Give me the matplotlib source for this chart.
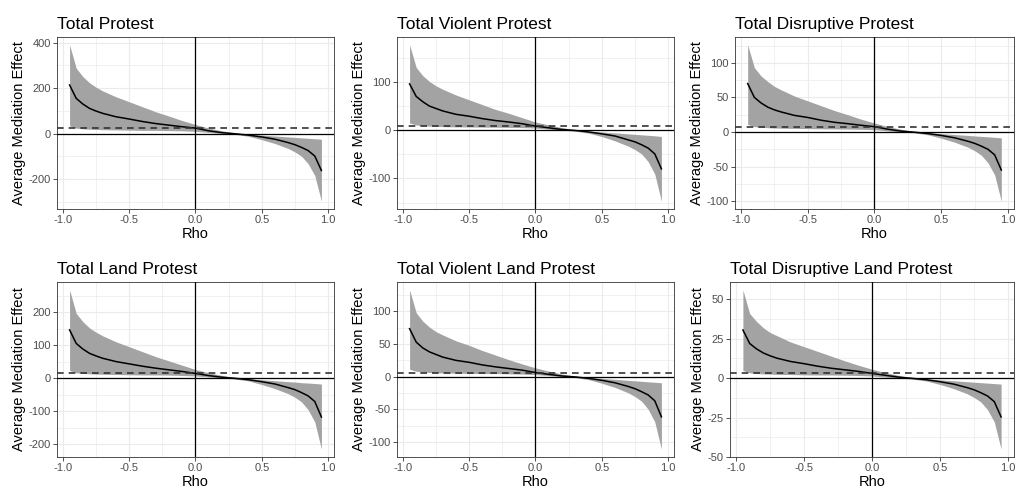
import matplotlib
matplotlib.use("Agg")
import matplotlib.pyplot as plt
from matplotlib.ticker import AutoMinorLocator

plt.rcParams["font.family"] = ["Liberation Sans", "DejaVu Sans"]

rho = [-0.95, -0.9, -0.85, -0.8, -0.75, -0.7, -0.6, -0.5, -0.4, -0.3, -0.2, -0.1, 0.0,
       0.1, 0.2, 0.3, 0.4, 0.5, 0.6, 0.7, 0.75, 0.8, 0.85, 0.9, 0.95]

titles = ["Total Protest", "Total Violent Protest", "Total Disruptive Protest",
          "Total Land Protest", "Total Violent Land Protest", "Total Disruptive Land Protest"]

# average mediation effect at each rho, with 95% bounds
est_total = [214, 155, 130, 111, 99, 89, 74, 64, 53, 44, 37, 30, 24, 12, 4, -1, -7, -15, -25, -40, -49, -61, -75, -99, -163]
hi_total = [391, 288, 251, 224, 204, 188, 162, 140, 118, 96, 77, 57, 40, 24, 12, 2, -3, -7, -11, -15, -17, -19, -21, -23, -25]
lo_total = [34, 24, 21, 19, 18, 17, 16, 15, 14, 14, 13, 12, 10, 5, 0, -4, -12, -27, -44, -66, -81, -100, -133, -185, -298]

est_violent = [96, 70, 59, 50, 45, 40, 33, 29, 24, 20, 17, 13.5, 8.5, 5, 1.5, -0.5, -3.5, -7.5, -12, -20, -24, -30, -37, -49, -80]
hi_violent = [177, 130, 113, 101, 92, 85, 73, 63, 53, 43, 35, 26, 17, 11, 5.5, 1, -1.5, -3.5, -5.5, -7.5, -8.5, -9.5, -10.5, -11.5, -13]
lo_violent = [15, 11, 9.5, 8.5, 8, 7.5, 7, 6.8, 6.5, 6.3, 6, 5.5, 4.5, 2.3, 0, -2, -6, -13, -22, -33, -40, -49, -65, -91, -147]

est_disrupt = [70, 50, 42, 36, 32, 29, 24, 21, 17, 14, 12, 9.7, 7.7, 4, 1.3, -0.3, -2.3, -5, -8.4, -13.4, -16.4, -20.4, -25, -33, -55]
hi_disrupt = [126, 93, 81, 73, 66, 61, 52, 45, 38, 31, 25, 18.5, 13, 7.8, 3.9, 0.7, -1, -2.3, -3.7, -5, -5.7, -6.4, -7, -7.7, -8.5]
lo_disrupt = [11, 7.8, 6.8, 6.2, 5.8, 5.5, 5.2, 4.9, 4.6, 4.5, 4.2, 3.9, 3.3, 1.6, 0, -1.3, -4, -9, -14.7, -22, -27, -33.5, -44.5, -62, -100]

est_land = [146, 105, 88, 75, 67, 60, 50, 43, 36, 30, 25, 20, 14, 7.5, 2.5, -0.7, -5, -11, -18, -29, -35, -44, -54, -71, -118]
hi_land = [267, 196, 171, 152, 139, 128, 110, 95, 80, 65, 52, 39, 26, 16, 8, 1.4, -2, -5, -8, -11, -12, -14, -15, -16.5, -18]
lo_land = [23, 16, 14, 13, 12, 11.5, 11, 10, 9.5, 9.5, 9, 8, 6.5, 3.5, 0, -3, -8.6, -19.5, -32, -47.5, -58, -72, -96, -133, -215]

est_vland = [73.6, 53, 44, 38, 34, 30, 25, 22, 18, 15, 12.5, 10, 6.3, 3.5, 1, -0.4, -2.6, -5.6, -9.4, -15, -18.4, -23, -28, -37, -61.6]
hi_vland = [133, 98, 85, 76, 69, 64, 55, 48, 40, 33, 26, 19.5, 13.5, 8.5, 4, 0.8, -1.1, -2.6, -4.1, -5.6, -6.4, -7.1, -7.9, -8.6, -9.4]
lo_vland = [11.5, 8.2, 7.1, 6.5, 6.1, 5.8, 5.4, 5.1, 4.8, 4.8, 4.4, 4, 3.2, 1.7, 0, -1.5, -4.5, -10, -16.5, -24.8, -30.4, -37.5, -50, -69.4, -111]

est_dland = [30.6, 22, 18.6, 16, 14.2, 12.7, 10.6, 9.2, 7.6, 6.3, 5.3, 4.3, 3, 1.8, 0.6, -0.15, -1, -2.25, -3.75, -6, -7.35, -9.2, -11.3, -14.9, -24.6]
hi_dland = [56, 41, 36, 32, 29, 27, 23, 20, 17, 14, 11, 8.2, 5.7, 3.5, 1.7, 0.3, -0.45, -1.05, -1.65, -2.25, -2.55, -2.85, -3.15, -3.45, -3.75]
lo_dland = [4.9, 3.4, 3, 2.7, 2.6, 2.4, 2.3, 2.1, 2, 2, 1.9, 1.7, 1.4, 0.7, 0, -0.6, -1.8, -4, -6.6, -9.9, -12.2, -15, -20, -27.8, -45]

# point estimate of the mediation effect (rho = 0)
acme = [24, 8.5, 7.7, 14, 6.3, 3]

estimates = [est_total, est_violent, est_disrupt, est_land, est_vland, est_dland]
uppers = [hi_total, hi_violent, hi_disrupt, hi_land, hi_vland, hi_dland]
lowers = [lo_total, lo_violent, lo_disrupt, lo_land, lo_vland, lo_dland]

yticks = [[-200, 0, 200, 400], [-100, 0, 100], [-100, -50, 0, 50, 100],
          [-200, -100, 0, 100, 200], [-100, -50, 0, 50, 100], [-50, -25, 0, 25, 50]]
xticks = [-1.0, -0.5, 0.0, 0.5, 1.0]

W, H = 1020, 496
# panel boxes in pixels: left, right, top, bottom
boxes = [(57, 334, 37, 209), (397, 674, 37, 209), (735, 1014, 37, 209),
         (57, 334, 282, 457), (397, 674, 282, 457), (730, 1014, 282, 457)]

fig = plt.figure(figsize=(W / 100, H / 100), dpi=100)

for i in range(6):
    l, r, t, b = boxes[i]
    ax = fig.add_axes([l / W, 1 - b / H, (r - l) / W, (b - t) / H])
    ax.fill_between(rho, lowers[i], uppers[i], color="#a3a3a3", lw=0, zorder=2)
    ax.plot(rho, estimates[i], color="black", lw=1.1, zorder=3)
    ax.axhline(acme[i], color="#333333", lw=1.2, ls=(0, (4, 3)), zorder=4)
    ax.axhline(0, color="black", lw=0.9, zorder=4)
    ax.axvline(0, color="black", lw=0.9, zorder=4)
    ax.margins(x=0.05, y=0.05)

    ax.set_xticks(xticks)
    ax.set_xticklabels([f"{v:.1f}" for v in xticks])
    ax.set_yticks(yticks[i])
    ax.set_yticklabels([str(v) for v in yticks[i]])
    ax.xaxis.set_minor_locator(AutoMinorLocator(2))
    ax.yaxis.set_minor_locator(AutoMinorLocator(2))
    ax.grid(which="major", color="#ebebeb", lw=0.8, zorder=0)
    ax.grid(which="minor", color="#ebebeb", lw=0.5, zorder=0)
    ax.set_axisbelow(True)
    ax.tick_params(which="major", direction="out", length=3, width=0.6,
                   color="#333333", labelsize=8, labelcolor="#4d4d4d", pad=1.5)
    ax.tick_params(which="minor", length=0)
    for s in ax.spines.values():
        s.set_color("#333333")
        s.set_linewidth(0.6)

    ax.set_xlabel("Rho", fontsize=10.5, labelpad=1)
    ax.set_ylabel("Average Mediation Effect", fontsize=10.5, labelpad=2)
    ax.set_title(titles[i], fontsize=12.5, loc="left", pad=6)

fig.savefig("out.png", dpi=100)
